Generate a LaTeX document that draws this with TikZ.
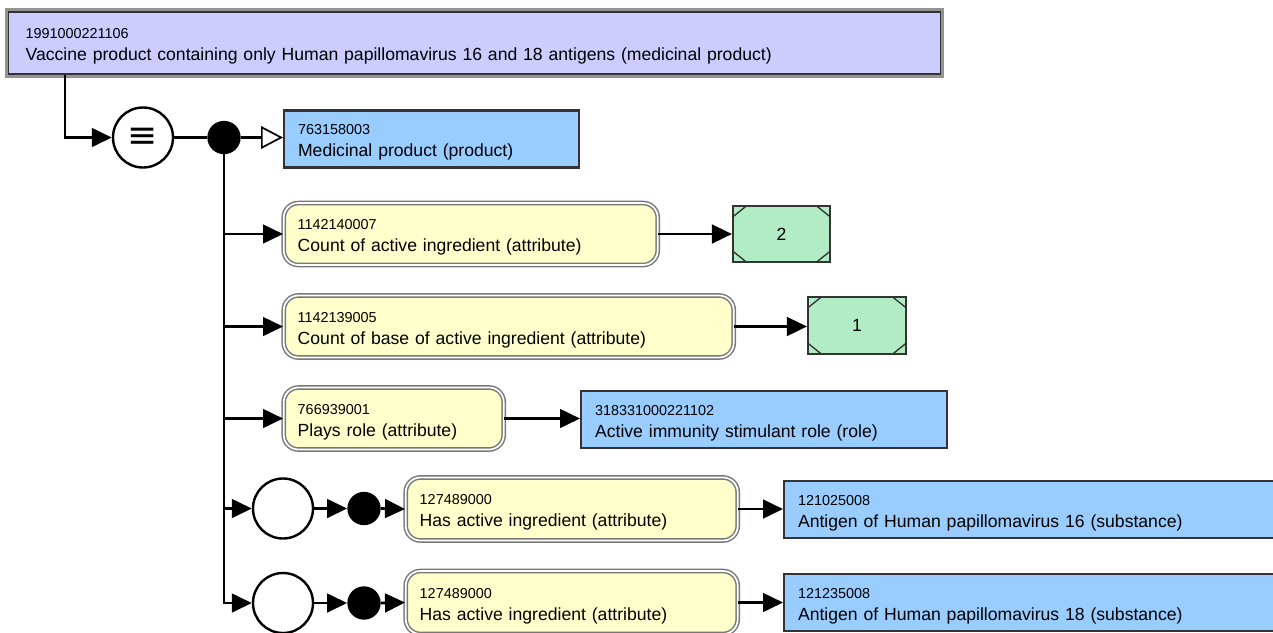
\documentclass[tikz,border=0pt]{standalone}
\usepackage{fontspec}
\setmainfont{Liberation Sans}
\newfontfamily\dejavu{DejaVu Sans}
\usetikzlibrary{arrows.meta,calc}
\definecolor{topfill}{RGB}{204,204,255}
\definecolor{bluefill}{RGB}{153,204,255}
\definecolor{attrfill}{RGB}{255,255,204}
\definecolor{greenfill}{RGB}{178,236,196}
\definecolor{edgedark}{RGB}{51,51,51}
\definecolor{edgegray}{RGB}{120,120,120}
\newcommand\idlab[2]{{\fontsize{10.8}{13}\selectfont\rule{0pt}{12.5pt}#1}\\#2}
\begin{document}
\begin{tikzpicture}[x=0.75pt,y=-0.75pt,
  every node/.style={font=\fontsize{13.2}{16.5}\selectfont},
  conceptbox/.style={draw=edgedark, line width=1.6pt, fill=bluefill, anchor=west, align=left,
     inner xsep=10.5pt, inner ysep=0pt},
  topbox/.style={draw=edgedark, line width=1pt, fill=topfill, anchor=west, align=left,
     inner xsep=12.75pt, inner ysep=0pt, preaction={draw=edgegray!80, line width=5.5pt}},
  attrbox/.style={draw=edgegray, double=white, line width=1.1pt, double distance=1.3pt,
     fill=attrfill, rounded corners=11pt, anchor=west, align=left, inner xsep=10.5pt, inner ysep=0pt},
  valbox/.style={draw=edgedark, line width=1.6pt, fill=greenfill, anchor=center,
     path picture={
       \draw[edgedark, line width=1pt]
         ($(path picture bounding box.north west)+(0,-8pt)$) -- ++(10pt,8pt)
         ($(path picture bounding box.north east)+(0,-8pt)$) -- ++(-10pt,8pt)
         ($(path picture bounding box.south west)+(0,8pt)$) -- ++(10pt,-8pt)
         ($(path picture bounding box.south east)+(0,8pt)$) -- ++(-10pt,-8pt);}},
  opcircle/.style={circle, draw=black, line width=1.8pt, fill=white, minimum size=45pt, inner sep=0pt},
  dotnode/.style={circle, fill=black, minimum size=25pt, inner sep=0pt},
  conn/.style={line width=2pt, black},
  arr/.style={conn, -{Triangle[length=15pt, width=14pt]}},
  isa/.style={conn, -{Triangle[open, fill=white, length=16.5pt, width=17pt, line width=1.3pt]}},
]
\useasboundingbox (0,0) rectangle (1273,632);
\clip (0,0) rectangle (1273,632);

% top defined concept
\node[topbox, minimum width=699pt, minimum height=46.5pt, text width=673.5pt] (top) at (8,43)
  {\idlab{1991000221106}{Vaccine product containing only Human papillomavirus 16 and 18 antigens (medicinal product)}};

\node[opcircle] (eq) at (143,137.5) {\dejavu\fontsize{27}{27}\selectfont ≡};
\node[dotnode] (dot) at (224,137.5) {};
\node[conceptbox, minimum width=221.25pt, minimum height=42.75pt, text width=200.25pt] (med) at (283,139)
  {\idlab{763158003}{Medicinal product (product)}};

% row 1
\node[attrbox, minimum width=280.5pt, minimum height=46.5pt, text width=259.5pt] (a1) at (283,234)
  {\idlab{1142140007}{Count of active ingredient (attribute)}};
\node[valbox, minimum width=72.75pt, minimum height=42pt] (g1) at (781.5,234) {2};
% row 2
\node[attrbox, minimum width=337.5pt, minimum height=46.5pt, text width=316.5pt] (a2) at (283,326.5)
  {\idlab{1142139005}{Count of base of active ingredient (attribute)}};
\node[valbox, minimum width=73.5pt, minimum height=42.75pt] (g2) at (857,325.5) {1};
% row 3
\node[attrbox, minimum width=165pt, minimum height=46.5pt, text width=144pt] (a3) at (283,418.5)
  {\idlab{766939001}{Plays role (attribute)}};
\node[conceptbox, minimum width=274.5pt, minimum height=42.75pt, text width=253.5pt] (b3) at (580,419.5)
  {\idlab{318331000221102}{Active immunity stimulant role (role)}};
% row 4
\node[opcircle] (c4) at (283,508.5) {};
\node[dotnode] (d4) at (364,508.5) {};
\node[attrbox, minimum width=249pt, minimum height=47.25pt, text width=228pt] (a4) at (405,509)
  {\idlab{127489000}{Has active ingredient (attribute)}};
\node[conceptbox, minimum width=372.75pt, minimum height=42.75pt, text width=351.75pt] (b4) at (783,509.5)
  {\idlab{121025008}{Antigen of Human papillomavirus 16 (substance)}};
% row 5
\node[opcircle] (c5) at (283,603) {};
\node[dotnode] (d5) at (364,603) {};
\node[attrbox, minimum width=249pt, minimum height=47.25pt, text width=228pt] (a5) at (405,602.5)
  {\idlab{127489000}{Has active ingredient (attribute)}};
\node[conceptbox, minimum width=372.75pt, minimum height=42.75pt, text width=351.75pt] (b5) at (783,602.5)
  {\idlab{121235008}{Antigen of Human papillomavirus 18 (substance)}};

% connectors
\coordinate (tstart) at ($(top.south west)+(42.75pt,0)$);
\draw[arr] (tstart) |- (eq.west);
\draw[conn] (eq.east) -- (dot.west);
\draw[isa] (dot.east) -- (med.west |- dot.east);
\draw[arr] (dot.center) |- (c5.west);
\draw[arr] (dot |- a1.west) -- (a1.west);
\draw[arr] (dot |- a2.west) -- (a2.west);
\draw[arr] (dot |- a3.west) -- (a3.west);
\draw[arr] (dot |- c4.west) -- (c4.west);
\draw[arr] (a1.east) -- (a1.east -| g1.west);
\draw[arr] (a2.east) -- (a2.east -| g2.west);
\draw[arr] (a3.east) -- (a3.east -| b3.west);
\draw[arr] (c4.east) -- (d4.west);
\draw[arr] (d4.east) -- (a4.west);
\draw[arr] (a4.east) -- (a4.east -| b4.west);
\draw[arr] (c5.east) -- (d5.west);
\draw[arr] (d5.east) -- (a5.west);
\draw[arr] (a5.east) -- (a5.east -| b5.west);
\end{tikzpicture}
\end{document}
